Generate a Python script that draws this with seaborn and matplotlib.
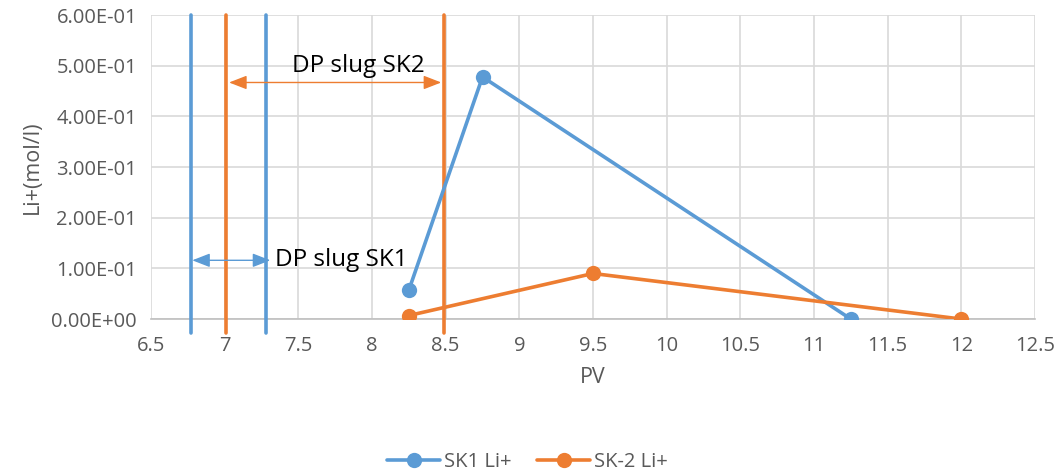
import numpy as np
import pandas as pd
import matplotlib
matplotlib.use("Agg")
import matplotlib.pyplot as plt
from matplotlib.ticker import FuncFormatter, MultipleLocator
from matplotlib.lines import Line2D
import seaborn as sns

# Measured Li+ concentrations versus pore volumes injected
sk1_pv = [8.25, 8.75, 11.25]
sk1_li = [0.057, 0.478, 0.0]
sk2_pv = [8.25, 9.5, 12.0]
sk2_li = [0.007, 0.09, 0.0]

# Start / end of the DP slug for each core
sk1_slug = [6.77, 7.28]
sk2_slug = [7.01, 8.49]

BLUE = "#5B9BD5"
ORANGE = "#ED7D31"
GRID = "#D9D9D9"
TEXT = "#595959"

sns.set_theme(style="white")
plt.rcParams["font.family"] = ["Open Sans", "DejaVu Sans"]

df = pd.concat([
    pd.DataFrame({"PV": sk1_pv, "Li": sk1_li, "series": "SK1 Li+"}),
    pd.DataFrame({"PV": sk2_pv, "Li": sk2_li, "series": "SK-2 Li+"}),
], ignore_index=True)

fig = plt.figure(figsize=(10.55, 4.72), dpi=100)
ax = fig.add_axes([0.1431, 0.324, 0.838, 0.644])

sns.lineplot(data=df, x="PV", y="Li", hue="series", sort=False,
             palette={"SK1 Li+": BLUE, "SK-2 Li+": ORANGE},
             marker="o", markersize=11, markeredgewidth=0,
             linewidth=2.6, ax=ax, legend=False, zorder=4)

# slug boundary lines
for xv in sk1_slug:
    ax.plot([xv, xv], [-0.028, 0.6], color=BLUE, lw=2.6, clip_on=False, zorder=3)
for xv in sk2_slug:
    ax.plot([xv, xv], [-0.028, 0.6], color=ORANGE, lw=2.6, clip_on=False, zorder=3)

arrow_kw = dict(arrowstyle="<|-|>,head_length=0.9,head_width=0.35", lw=1.0,
                shrinkA=0, shrinkB=0)
ax.annotate("", xy=(sk2_slug[0] + 0.02, 0.467), xytext=(sk2_slug[1] - 0.02, 0.467),
            arrowprops=dict(color=ORANGE, **arrow_kw), zorder=5)
ax.annotate("", xy=(sk1_slug[0] + 0.01, 0.116), xytext=(sk1_slug[1] + 0.03, 0.116),
            arrowprops=dict(color=BLUE, **arrow_kw), zorder=5)
ax.text(7.46, 0.5, "DP slug SK2", fontsize=17.5, color="black", va="center", ha="left", zorder=6)
ax.text(7.34, 0.116, "DP slug SK1", fontsize=17.5, color="black", va="center", ha="left", zorder=6)

ax.set_xlim(6.5, 12.5)
ax.set_ylim(0, 0.6)
ax.xaxis.set_major_locator(MultipleLocator(0.5))
ax.xaxis.set_minor_locator(MultipleLocator(0.1))
ax.yaxis.set_major_locator(MultipleLocator(0.1))
ax.xaxis.set_major_formatter(FuncFormatter(lambda v, p: f"{v:g}"))
ax.yaxis.set_major_formatter(FuncFormatter(lambda v, p: f"{v:.2E}"))

ax.grid(True, which="major", color=GRID, lw=1.2)
ax.set_axisbelow(True)
for s in ["top", "right", "left"]:
    ax.spines[s].set_visible(False)
ax.spines["bottom"].set_color("#BFBFBF")
ax.spines["bottom"].set_linewidth(1.2)

ax.tick_params(axis="x", which="major", direction="inout", length=12, width=1.2,
               color="#BFBFBF", labelsize=14.5, labelcolor=TEXT, pad=6)
ax.tick_params(axis="x", which="minor", direction="inout", length=8, width=1.0,
               color="#BFBFBF")
ax.tick_params(axis="y", which="major", length=0, labelsize=14.5, labelcolor=TEXT, pad=10)

ax.set_xlabel("PV", fontsize=15.5, color=TEXT, labelpad=8)
ax.set_ylabel("Li+(mol/l)", fontsize=15.5, color=TEXT, labelpad=6)

handles = [Line2D([], [], color=BLUE, lw=2.6, marker="o", markersize=11, markeredgewidth=0),
           Line2D([], [], color=ORANGE, lw=2.6, marker="o", markersize=11, markeredgewidth=0)]
fig.legend(handles, ["SK1 Li+", "SK-2 Li+"], loc="center", bbox_to_anchor=(0.5, 0.022),
           ncol=2, frameon=False, fontsize=14.5, labelcolor=TEXT,
           handlelength=2.6, columnspacing=1.3, handletextpad=0.2)

fig.savefig("out.png", dpi=100)
